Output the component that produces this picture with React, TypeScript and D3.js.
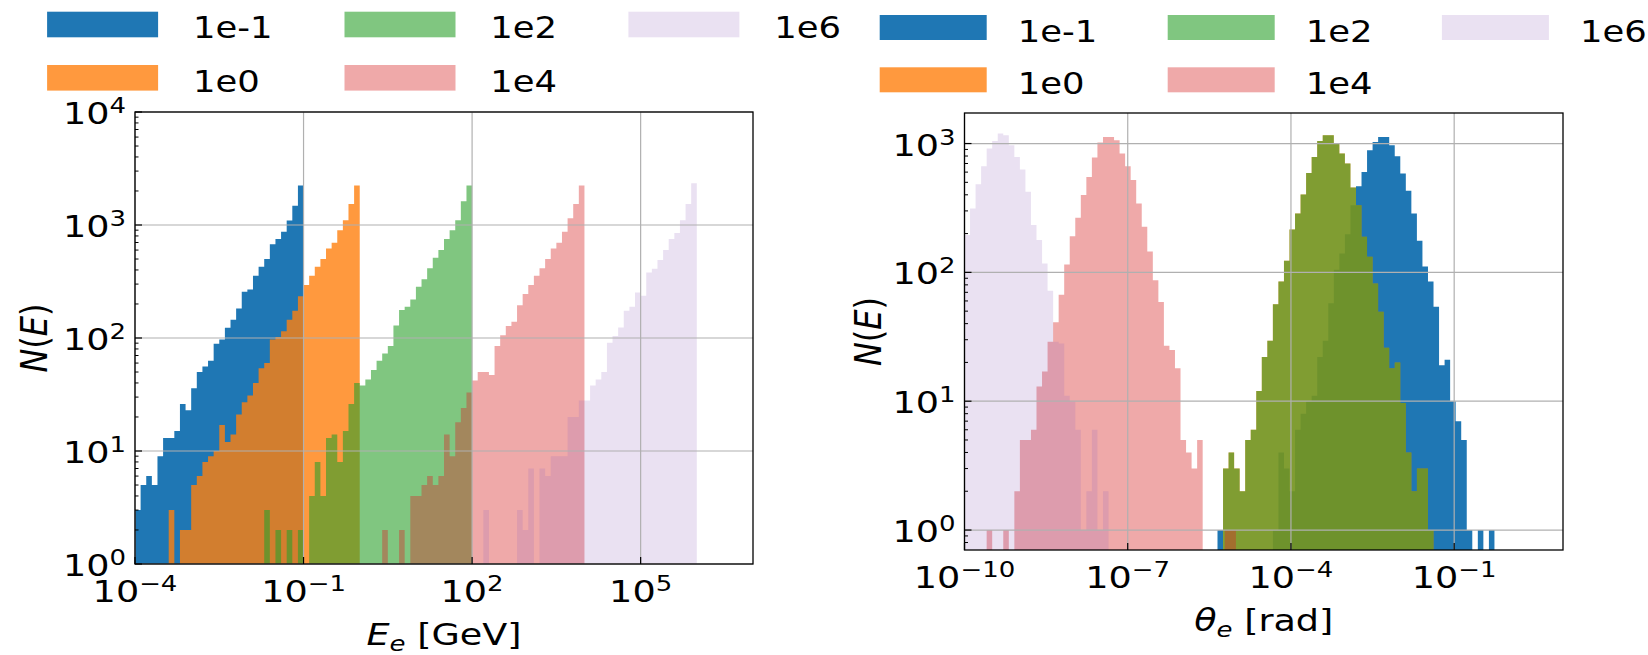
import React from 'react';
import * as d3 from 'd3';

const W = 1648;
const H = 655;
const FONT = 'DejaVu Sans';
const SX = 1.18; // the reference text is a bit wider than tall

// series (one per beam energy)
const seriesLabels = ['1e-1', '1e0', '1e2', '1e4', '1e6'];
const seriesColors = ['#1f77b4', '#ff7f0e', '#2ca02c', '#d62728', '#9467bd'];
const seriesAlpha = [1, 0.8, 0.6, 0.4, 0.2];

// ---- left panel: electron energy E_e, log10 bins of 0.1 dex
const energyBinWidth = 0.1;
const energyStart = [-4.0, -3.4, -1.7, 0.4, 2.2]; // log10 of first bin edge
const energy_1em1 = [3, 5, 6, 5, 9, 13, 13, 15, 26, 23, 36, 50, 56, 63, 89, 97, 123, 145, 182, 257, 269, 355, 427, 501, 676, 750, 870, 1096, 1480, 2240];
const energy_1e0 = [3, 0, 2, 2, 5, 6, 8, 9, 10, 17, 12, 14, 21, 27, 31, 40, 54, 60, 97, 102, 115, 145, 174, 234, 295, 355, 427, 500, 620, 695, 900, 1100, 1535, 2240];
const energy_1e2 = [3, 0, 2, 0, 2, 0, 2, 0, 4, 8, 4, 13, 14, 8, 15, 26, 40, 38, 43, 52, 63, 73, 85, 129, 177, 189, 219, 284, 331, 414, 513, 600, 750, 900, 1100, 1620, 2240];
const energy_1e4 = [2, 0, 0, 2, 0, 4, 4, 5, 6, 5, 6, 14, 9, 18, 24, 33, 42, 50, 50, 47, 85, 106, 128, 139, 195, 245, 295, 355, 414, 500, 620, 695, 870, 1150, 1535, 2240];
const energy_1e6 = [3, 0, 0, 0, 0, 0, 3, 2, 7, 0, 7, 6, 9, 9, 9, 20, 20, 28, 28, 38, 43, 50, 91, 104, 124, 174, 189, 253, 237, 380, 410, 490, 600, 750, 850, 1100, 1535, 2340];

// ---- right panel: electron angle theta_e, log10 bins of ~0.1 dex
const angleBinWidth = 0.1018;
const angleStart = [-5.35, -5.35, -5.35, -10.0, -10.0];
const angle_1em1 = [1, 0, 0, 0, 0, 0, 0, 0, 0, 0, 1, 4, 3, 2, 6, 8, 10, 11, 22, 29.5, 57.5, 105, 140, 198, 332, 467, 602, 887, 1029, 1125, 1125, 970, 795, 585, 430, 287, 176, 111, 85, 54, 19, 21, 10, 7, 5, 1, 0, 1, 0, 1];
const angle_1e0 = [0, 3, 4, 3, 2, 5, 6, 12, 22, 29.5, 56.5, 85, 123, 215, 287, 403, 591, 787, 1047, 1160, 1160, 1011, 836, 700, 456, 332, 189, 132, 82, 49.5, 26, 18, 20, 9.7, 4, 2, 3, 3, 1];
const angle_1e2 = [0, 3, 4, 3, 2, 5, 6, 12, 22, 29.5, 56.5, 85, 123, 215, 287, 403, 591, 787, 1047, 1160, 1160, 1011, 836, 700, 456, 332, 189, 132, 82, 49.5, 26, 18, 20, 9.7, 4, 2, 3, 3, 1];
const angle_1e4 = [0, 0, 0, 0, 1, 0, 0, 1, 0, 2, 5, 5, 6, 13, 17, 29, 41, 67, 115, 191, 265, 398, 551, 778, 1018, 1125, 1125, 1062, 836, 667, 520, 343, 226, 145, 87, 59, 27, 25, 18, 5, 4, 3, 5, 0, 0, 0, 0, 1, 1];
const angle_1e6 = [195, 313, 484, 667, 915, 1047, 1196, 1160, 970, 787, 629, 422, 233, 178, 117, 72, 29, 28, 11, 10, 6, 1, 2, 6, 1, 2];

// tick exponents
const energyXTicks = [-4, -1, 2, 5];
const energyYTicks = [0, 1, 2, 3, 4];
const angleXTicks = [-10, -7, -4, -1];
const angleYTicks = [0, 1, 2, 3];

const expText = (e: number) => (e < 0 ? '\u2212' + Math.abs(e) : String(e));

function Pow10({ x, y, exp, anchor }: any) {
  return (
    <text transform={`translate(${x},${y}) scale(${SX},1)`} textAnchor={anchor} fontSize={31} fill="#000">
      10<tspan fontSize={22} dy={-11}>{expText(exp)}</tspan>
    </text>
  );
}

function HistPanel({ id, box, xDomain, yDomain, binWidth, starts, counts, xTicks, yTicks, xLabel, yLabelX }: any) {
  const x = d3.scaleLog().domain(xDomain).range([box.left, box.right]);
  const y = d3.scaleLog().domain(yDomain).range([box.bottom, box.top]);

  const area = d3
    .area<[number, number]>()
    .x((d) => x(d[0]))
    .y0(box.bottom)
    .y1((d) => (d[1] > 0 ? y(d[1]) : box.bottom))
    .curve(d3.curveStepAfter);

  const paths = counts.map((cs: number[], s: number) => {
    const pts: [number, number][] = cs.map((c, i) => [Math.pow(10, starts[s] + i * binWidth), c]);
    pts.push([Math.pow(10, starts[s] + cs.length * binWidth), cs[cs.length - 1]]);
    return area(pts);
  });

  // minor y ticks 2..9 x 10^k
  const minor: number[] = [];
  const k0 = Math.floor(Math.log10(yDomain[0]));
  const k1 = Math.ceil(Math.log10(yDomain[1]));
  for (let k = k0; k < k1; k++) {
    for (let m = 2; m <= 9; m++) {
      const v = m * Math.pow(10, k);
      if (v > yDomain[0] * 1.01 && v < yDomain[1]) minor.push(v);
    }
  }

  const cx = (box.left + box.right) / 2;
  const cy = (box.top + box.bottom) / 2;

  return (
    <g>
      <defs>
        <clipPath id={id}>
          <rect x={box.left} y={box.top} width={box.right - box.left} height={box.bottom - box.top} />
        </clipPath>
      </defs>
      <g clipPath={`url(#${id})`}>
        {paths.map((p: string, s: number) => (
          <path key={s} d={p} fill={seriesColors[s]} fillOpacity={seriesAlpha[s]} stroke="none" />
        ))}
      </g>

      {/* grid */}
      {xTicks.map((e: number) => (
        <line key={'gx' + e} x1={x(Math.pow(10, e))} x2={x(Math.pow(10, e))} y1={box.top} y2={box.bottom} stroke="#b0b0b0" strokeWidth={1.2} />
      ))}
      {yTicks.map((e: number) => (
        <line key={'gy' + e} x1={box.left} x2={box.right} y1={y(Math.pow(10, e))} y2={y(Math.pow(10, e))} stroke="#b0b0b0" strokeWidth={1.2} />
      ))}

      {/* ticks, pointing in */}
      {xTicks.map((e: number) => (
        <line key={'tx' + e} x1={x(Math.pow(10, e))} x2={x(Math.pow(10, e))} y1={box.bottom} y2={box.bottom - 7} stroke="#000" strokeWidth={1.2} />
      ))}
      {yTicks.map((e: number) => (
        <line key={'ty' + e} x1={box.left} x2={box.left + 7} y1={y(Math.pow(10, e))} y2={y(Math.pow(10, e))} stroke="#000" strokeWidth={1.2} />
      ))}
      {minor.map((v) => (
        <line key={'tm' + v} x1={box.left} x2={box.left + 3.5} y1={y(v)} y2={y(v)} stroke="#000" strokeWidth={1} />
      ))}

      <rect x={box.left} y={box.top} width={box.right - box.left} height={box.bottom - box.top} fill="none" stroke="#000" strokeWidth={1.3} />

      {/* tick labels */}
      {xTicks.map((e: number) => (
        <Pow10 key={'lx' + e} x={x(Math.pow(10, e))} y={box.bottom + 38} exp={e} anchor="middle" />
      ))}
      {yTicks.map((e: number) => (
        <Pow10 key={'ly' + e} x={box.left - 9} y={y(Math.pow(10, e)) + 12} exp={e} anchor="end" />
      ))}

      {/* axis labels */}
      <text transform={`translate(${cx},${box.bottom + 81}) scale(${SX},1)`} textAnchor="middle" fontSize={31} fill="#000">
        {xLabel}
      </text>
      <text
        transform={`translate(${yLabelX},${cy}) scale(${SX},1) rotate(-90)`}
        textAnchor="middle"
        dominantBaseline="central"
        fontSize={32}
        fill="#000"
      >
        <tspan fontStyle="italic">N</tspan>(<tspan fontStyle="italic">E</tspan>)
      </text>
    </g>
  );
}

function Legend({ patchX, rowY, patchW, patchH, labelDx, baseDy }: any) {
  return (
    <g>
      {seriesLabels.map((lab, i) => {
        const col = Math.floor(i / 2);
        const row = i % 2;
        const px = patchX[col];
        const py = rowY[row];
        return (
          <g key={lab}>
            <rect x={px} y={py} width={patchW} height={patchH} fill={seriesColors[i]} fillOpacity={seriesAlpha[i]} />
            <text transform={`translate(${px + labelDx},${py + baseDy}) scale(${SX},1)`} fontSize={30} fill="#000">
              {lab}
            </text>
          </g>
        );
      })}
    </g>
  );
}

export default function App() {
  const leftBox = { left: 135, right: 753, top: 112, bottom: 564 };
  const rightBox = { left: 964.5, right: 1563, top: 113, bottom: 550 };
  return (
    <div style={{ position: 'absolute', left: 0, top: 0 }}>
      <svg width={W} height={H} style={{ display: 'block', background: '#fff' }} fontFamily={FONT}>
        <HistPanel
          id="clipE"
          box={leftBox}
          xDomain={[1e-4, 1e7]}
          yDomain={[1, 1e4]}
          binWidth={energyBinWidth}
          starts={energyStart}
          counts={[energy_1em1, energy_1e0, energy_1e2, energy_1e4, energy_1e6]}
          xTicks={energyXTicks}
          yTicks={energyYTicks}
          yLabelX={34}
          xLabel={
            <>
              <tspan fontStyle="italic">E</tspan>
              <tspan fontStyle="italic" fontSize={22} dy={6}>e</tspan>
              <tspan dy={-6}> [GeV]</tspan>
            </>
          }
        />
        <HistPanel
          id="clipT"
          box={rightBox}
          xDomain={[1e-10, 1e1]}
          yDomain={[Math.pow(10, -0.155), Math.pow(10, 3.237)]}
          binWidth={angleBinWidth}
          starts={angleStart}
          counts={[angle_1em1, angle_1e0, angle_1e2, angle_1e4, angle_1e6]}
          xTicks={angleXTicks}
          yTicks={angleYTicks}
          yLabelX={868}
          xLabel={
            <>
              <tspan fontStyle="italic">θ</tspan>
              <tspan fontStyle="italic" fontSize={22} dy={6}>e</tspan>
              <tspan dy={-6}> [rad]</tspan>
            </>
          }
        />
        <Legend patchX={[47.1, 344.5, 628.4]} rowY={[11.7, 65]} patchW={111} patchH={25.6} labelDx={145.8} baseDy={26.6} />
        <Legend patchX={[879.7, 1167.7, 1441.9]} rowY={[15, 67.3]} patchW={107} patchH={25} labelDx={138} baseDy={26.6} />
      </svg>
    </div>
  );
}
